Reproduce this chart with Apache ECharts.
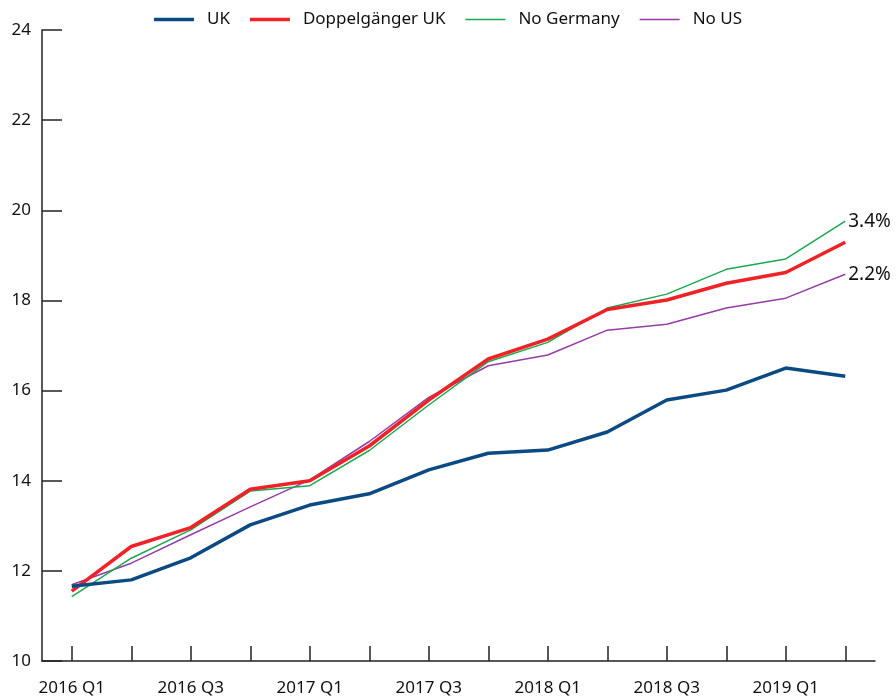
<!DOCTYPE html>
<html><head><meta charset="utf-8">
<script src="https://cdn.jsdelivr.net/npm/echarts@6/dist/echarts.min.js"></script>
<style>html,body{margin:0;padding:0;background:#fff}#c{width:896px;height:697px}</style>
</head><body><div id="c"></div>
<script>
const categories = ['2016 Q1','2016 Q2','2016 Q3','2016 Q4','2017 Q1','2017 Q2','2017 Q3','2017 Q4','2018 Q1','2018 Q2','2018 Q3','2018 Q4','2019 Q1','2019 Q2'];
const uk = [11.66,11.80,12.29,13.02,13.46,13.71,14.24,14.61,14.68,15.08,15.79,16.01,16.50,16.32];
const doppel = [11.55,12.54,12.96,13.81,14.00,14.77,15.79,16.70,17.14,17.80,18.01,18.38,18.62,19.29];
const noGermany = [11.43,12.28,12.91,13.77,13.89,14.67,15.68,16.64,17.07,17.83,18.14,18.69,18.92,19.76];
const noUS = [11.69,12.17,12.80,13.42,14.02,14.87,15.85,16.55,16.79,17.34,17.47,17.83,18.05,18.58];
const endLabels = {noGermany:'3.4%', noUS:'2.2%'};

const font = 'Noto Sans';
const thickIcon = 'path://M0,0L40,0L40,3.5L0,3.5Z';
const thinIcon = 'path://M0,0L40,0L40,1.5L0,1.5Z';
const chart = echarts.init(document.getElementById('c'), null, {renderer:'canvas'});
function mk(name, data, color, width, z, endText){
  const s = {name, type:'line', data, symbol:'none', z,
    lineStyle:{color, width}, itemStyle:{color}};
  if(endText){
    s.endLabel = {show:true, formatter:endText, color:'#111', fontSize:19, fontFamily:font, distance:3};
  }
  return s;
}
chart.setOption({
  animation:false,
  backgroundColor:'#fff',
  textStyle:{fontFamily:font},
  legend:{top:6, left:'center', itemWidth:40, itemHeight:12, itemGap:20, symbolKeepAspect:true,
    data:[
      {name:'UK', icon:thickIcon},
      {name:'Doppelgänger UK', icon:thickIcon},
      {name:'No Germany', icon:thinIcon},
      {name:'No US', icon:thinIcon}
    ],
    textStyle:{fontSize:17, color:'#111', fontFamily:font, padding:[0,0,0,8]}},
  grid:{left:42, top:30, width:833, height:631, containLabel:false},
  xAxis:{type:'category', data:categories, boundaryGap:true,
    axisLine:{lineStyle:{color:'#222', width:1.5}},
    axisTick:{show:true, inside:true, length:15, alignWithLabel:true, interval:0, lineStyle:{color:'#222', width:1.5}},
    axisLabel:{interval:1, margin:19, fontSize:17, color:'#111', fontFamily:font},
    splitLine:{show:false}},
  yAxis:{type:'value', min:10, max:24, interval:2,
    axisLine:{show:true, lineStyle:{color:'#222', width:1.5}},
    axisTick:{show:true, inside:true, length:20, lineStyle:{color:'#222', width:1.5}},
    axisLabel:{margin:11, fontSize:17, color:'#111', fontFamily:font},
    splitLine:{show:false}},
  series:[
    mk('UK', uk, '#0c4a84', 3.5, 4),
    mk('Doppelgänger UK', doppel, '#ee2227', 3.5, 3),
    mk('No Germany', noGermany, '#1aa850', 1.5, 2, endLabels.noGermany),
    mk('No US', noUS, '#973ba6', 1.5, 1, endLabels.noUS)
  ]
});
</script></body></html>
